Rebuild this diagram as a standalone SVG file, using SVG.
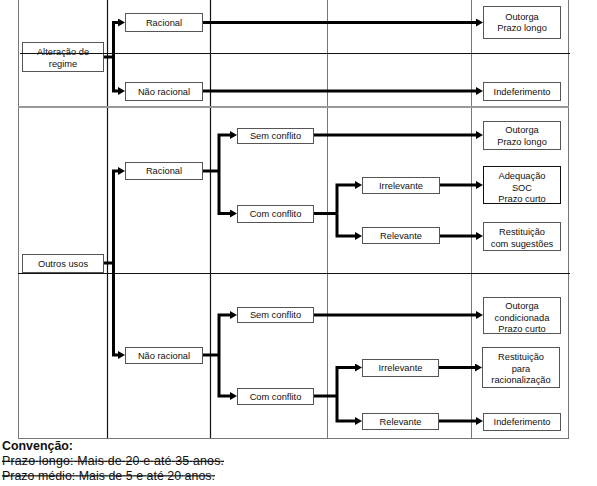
<svg xmlns="http://www.w3.org/2000/svg" width="597" height="486" viewBox="0 0 597 486">
<defs>
<style>
.bg{fill:#ffffff}
.gl{stroke:#777;stroke-width:1;fill:none}
.bl{stroke:#111;stroke-width:1.2;fill:none}
.sep{stroke:#999;stroke-width:2;fill:none}
.box{fill:#fff;stroke:#555;stroke-width:1}
.t{font-family:"Liberation Sans",Arial,sans-serif;font-size:9.3px;fill:#111;text-anchor:middle}
.c{stroke:#000;stroke-width:3;fill:none;stroke-linejoin:miter}
.n{font-family:"Liberation Sans",Arial,sans-serif;font-size:12.4px;fill:#111}
</style>
<marker id="ah" markerWidth="8" markerHeight="9" refX="0" refY="4" orient="auto" markerUnits="userSpaceOnUse">
<path d="M0,0 L7,4 L0,8 Z" fill="#000"/>
</marker>
</defs>
<rect class="bg" x="0" y="0" width="597" height="486"/>

<g id="table">
<line class="gl" x1="18.5" y1="0" x2="18.5" y2="107"/>
<line class="bl" x1="107.5" y1="0" x2="107.5" y2="107"/>
<line class="bl" x1="210.5" y1="0" x2="210.5" y2="107"/>
<line class="gl" x1="327.5" y1="0" x2="327.5" y2="107"/>
<line class="gl" x1="471.5" y1="0" x2="471.5" y2="107"/>
<line class="gl" x1="568.5" y1="0" x2="568.5" y2="107"/>
<line class="sep" x1="18" y1="107" x2="569" y2="107"/>
<line class="gl" x1="18.5" y1="108" x2="18.5" y2="438"/>
<line class="bl" x1="107.5" y1="108" x2="107.5" y2="438"/>
<line class="bl" x1="210.5" y1="108" x2="210.5" y2="438"/>
<line class="gl" x1="327.5" y1="108" x2="327.5" y2="438"/>
<line class="gl" x1="471.5" y1="108" x2="471.5" y2="438"/>
<line class="gl" x1="568.5" y1="108" x2="568.5" y2="438"/>
<line class="bl" x1="18" y1="273.5" x2="570" y2="273.5"/>
<line class="gl" x1="18" y1="438.5" x2="569" y2="438.5"/>
</g>

<g id="connectors">
<path class="c" d="M103,57 H113.5"/>
<path class="c" d="M113.5,57 V22.5 H118" marker-end="url(#ah)"/>
<path class="c" d="M113.5,57 V91 H118" marker-end="url(#ah)"/>
<path class="c" d="M202,22.5 H476" marker-end="url(#ah)"/>
<path class="c" d="M202,91 H476" marker-end="url(#ah)"/>

<path class="c" d="M103,263 H113.5"/>
<path class="c" d="M113.5,263 V171 H118" marker-end="url(#ah)"/>
<path class="c" d="M113.5,263 V355 H118" marker-end="url(#ah)"/>

<path class="c" d="M202,171 H219"/>
<path class="c" d="M219,171 V135 H230" marker-end="url(#ah)"/>
<path class="c" d="M219,171 V213.5 H230" marker-end="url(#ah)"/>
<path class="c" d="M313,135 H476" marker-end="url(#ah)"/>
<path class="c" d="M313,213.5 H337"/>
<path class="c" d="M337,213.5 V185 H355" marker-end="url(#ah)"/>
<path class="c" d="M337,213.5 V236 H355" marker-end="url(#ah)"/>
<path class="c" d="M439,185 H476" marker-end="url(#ah)"/>
<path class="c" d="M439,236 H476" marker-end="url(#ah)"/>

<path class="c" d="M202,355 H219"/>
<path class="c" d="M219,355 V315 H230" marker-end="url(#ah)"/>
<path class="c" d="M219,355 V396 H230" marker-end="url(#ah)"/>
<path class="c" d="M313,315 H476" marker-end="url(#ah)"/>
<path class="c" d="M313,396 H337"/>
<path class="c" d="M337,396 V367.5 H355" marker-end="url(#ah)"/>
<path class="c" d="M337,396 V421 H355" marker-end="url(#ah)"/>
<path class="c" d="M438,367.5 H475" marker-end="url(#ah)"/>
<path class="c" d="M438,421 H476" marker-end="url(#ah)"/>
</g>

<g id="n-alteracao">
<rect class="box" x="22.5" y="42.5" width="81" height="29"/>
<text class="t" x="63" y="55.3">Alteração de</text>
<text class="t" x="63" y="66.5">regime</text>
</g>
<line class="bl" x1="20" y1="53.5" x2="570" y2="53.5"/>

<g id="n-racional1">
<rect class="box" x="125.5" y="13.5" width="77" height="18"/>
<text class="t" x="164" y="25.8">Racional</text>
</g>
<g id="n-naoracional1">
<rect class="box" x="125.5" y="82.5" width="77" height="18"/>
<text class="t" x="164" y="94.8">Não racional</text>
</g>
<g id="n-outorga1">
<rect class="box" x="483.5" y="6.5" width="77" height="32"/>
<text class="t" x="522" y="19.5">Outorga</text>
<text class="t" x="522" y="31">Prazo longo</text>
</g>
<g id="n-indef1">
<rect class="box" x="483.5" y="82.5" width="77" height="18"/>
<text class="t" x="522" y="94.8">Indeferimento</text>
</g>

<g id="n-outros">
<rect class="box" x="22.5" y="254.5" width="81" height="18"/>
<text class="t" x="63" y="266.5">Outros usos</text>
</g>
<g id="n-racional2">
<rect class="box" x="125.5" y="162.5" width="77" height="17"/>
<text class="t" x="164" y="174.3">Racional</text>
</g>
<g id="n-sem1">
<rect class="box" x="237.5" y="128.5" width="76" height="15"/>
<text class="t" x="275.5" y="139.3">Sem conflito</text>
</g>
<g id="n-com1">
<rect class="box" x="237.5" y="205.5" width="76" height="17"/>
<text class="t" x="275.5" y="217.3">Com conflito</text>
</g>
<g id="n-irr1">
<rect class="box" x="362.5" y="177.5" width="77" height="16"/>
<text class="t" x="401" y="188.8">Irrelevante</text>
</g>
<g id="n-rel1">
<rect class="box" x="362.5" y="227.5" width="77" height="16"/>
<text class="t" x="401" y="238.8">Relevante</text>
</g>
<g id="n-outorga2">
<rect class="box" x="483.5" y="121.5" width="77" height="28"/>
<text class="t" x="522" y="133.3">Outorga</text>
<text class="t" x="522" y="144.6">Prazo longo</text>
</g>
<g id="n-adequacao">
<rect class="box" x="483.5" y="166.5" width="77" height="37" style="stroke:#111"/>
<text class="t" x="522" y="179">Adequação</text>
<text class="t" x="522" y="190.6">SOC</text>
<text class="t" x="522" y="202">Prazo curto</text>
</g>
<g id="n-restsug">
<rect class="box" x="483.5" y="222.5" width="77" height="28"/>
<text class="t" x="522" y="235">Restituição</text>
<text class="t" x="522" y="246.6">com sugestões</text>
</g>

<g id="n-naoracional2">
<rect class="box" x="125.5" y="347.5" width="77" height="16"/>
<text class="t" x="164" y="358.8">Não racional</text>
</g>
<g id="n-sem2">
<rect class="box" x="237.5" y="307.5" width="76" height="15"/>
<text class="t" x="275.5" y="318.3">Sem conflito</text>
</g>
<g id="n-com2">
<rect class="box" x="237.5" y="388.5" width="76" height="16"/>
<text class="t" x="275.5" y="399.8">Com conflito</text>
</g>
<g id="n-irr2">
<rect class="box" x="362.5" y="359.5" width="76" height="17"/>
<text class="t" x="400.5" y="371.3">Irrelevante</text>
</g>
<g id="n-rel2">
<rect class="box" x="362.5" y="413.5" width="76" height="16"/>
<text class="t" x="400.5" y="424.8">Relevante</text>
</g>
<g id="n-outorgacond">
<rect class="box" x="483.5" y="297.5" width="77" height="36"/>
<text class="t" x="522" y="309">Outorga</text>
<text class="t" x="522" y="320.6">condicionada</text>
<text class="t" x="522" y="332">Prazo curto</text>
</g>
<g id="n-restrac">
<rect class="box" x="482.5" y="347.5" width="77" height="40"/>
<text class="t" x="521" y="360">Restituição</text>
<text class="t" x="521" y="371.6">para</text>
<text class="t" x="521" y="383.3">racionalização</text>
</g>
<g id="n-indef2">
<rect class="box" x="483.5" y="413.5" width="77" height="17"/>
<text class="t" x="522" y="425">Indeferimento</text>
</g>

<g id="legend">
<text class="n" x="2" y="450" style="font-weight:bold" textLength="71">Convenção:</text>
<text class="n" x="2" y="465" text-decoration="line-through" textLength="222">Prazo longo: Mais de 20 e até 35 anos.</text>
<text class="n" x="2" y="479.5" text-decoration="line-through" textLength="213">Prazo médio: Mais de 5 e até 20 anos.</text>
</g>
</svg>
